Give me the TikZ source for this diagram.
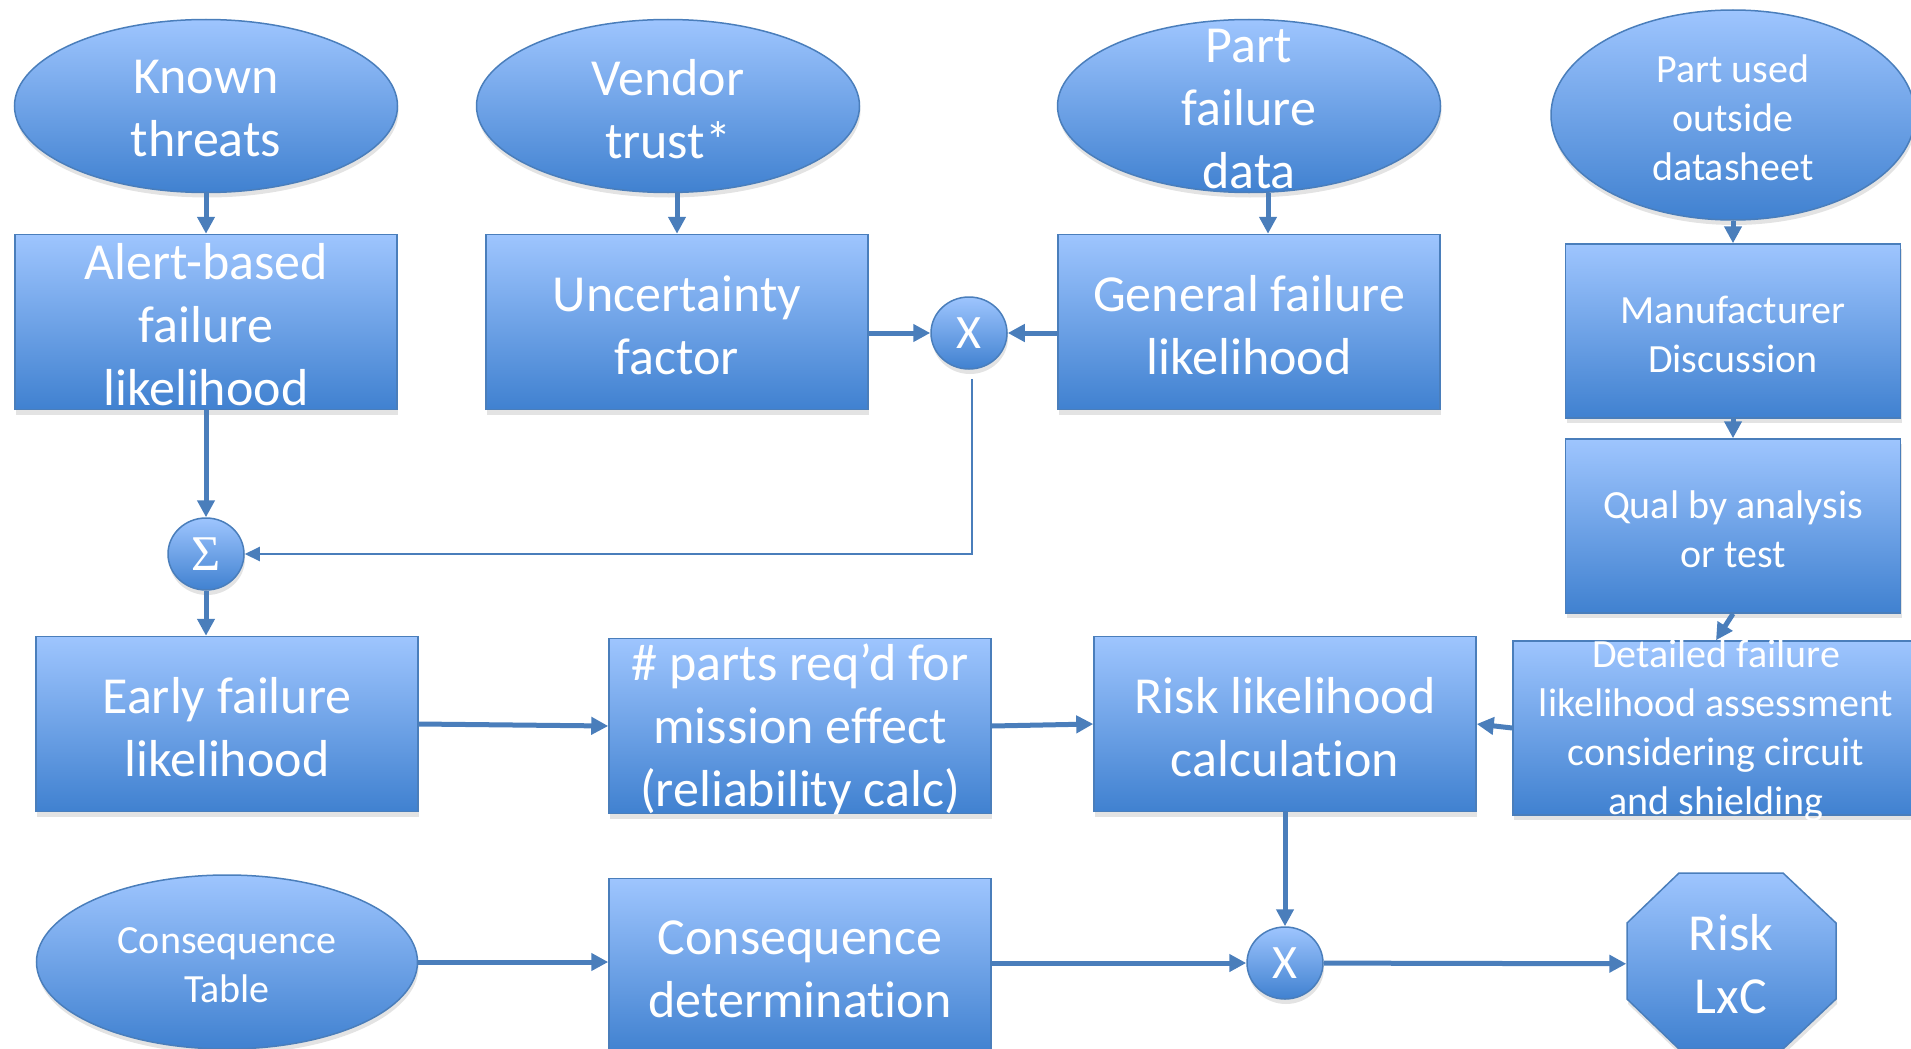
\documentclass[tikz,border=0pt]{standalone}
\usepackage{fontspec}
\setmainfont{Carlito}[Ligatures={NoCommon,NoRare}]
\newfontfamily\sigfont{Liberation Serif}
\usetikzlibrary{shapes.geometric,shadows,arrows.meta}
\definecolor{topc}{RGB}{158,197,254}
\definecolor{botc}{RGB}{64,129,208}
\definecolor{edgec}{RGB}{74,126,187}
\definecolor{linec}{RGB}{74,126,187}
\begin{document}
\begin{tikzpicture}[x=1pt,y=-1pt,
  shaded/.style={top color=topc,bottom color=botc,draw=edgec,line width=1.5pt,inner sep=0pt,
    drop shadow={opacity=0.22,shadow xshift=1pt,shadow yshift=-5pt}},
  txt/.style={text=white,align=center,inner sep=0pt,yshift=-3pt},
  bigtxt/.style={font=\fontsize{52}{63}\selectfont},
  smalltxt/.style={font=\fontsize{40}{49}\selectfont},
  boxn/.style={shaded,rectangle,minimum width=382pt,minimum height=175pt},
  ellbox/.style={shaded,ellipse,minimum width=383pt,minimum height=173pt},
  opn/.style={shaded,ellipse,minimum width=76pt,minimum height=72pt,text=white,font=\fontsize{48}{58}\selectfont},
  conn/.style={draw=linec,line width=5pt,-{Triangle[length=17pt,width=17pt]}},
  thinconn/.style={draw=linec,line width=2pt,-{Triangle[length=15pt,width=14pt]}}
]
\useasboundingbox (0,0) rectangle (1911,1049);
\clip (0,0) rectangle (1911,1049);

% top row ellipses
\node[ellbox] (kt) at (206,106) {};
\node[txt,bigtxt] at (kt) {Known\\threats};
\node[ellbox] (vt) at (668,106) {};
\node[txt,bigtxt] at (vt) {Vendor\\trust*};
\node[ellbox] (pfd) at (1249,106) {};
\node[txt,bigtxt] at (pfd) {Part\\failure\\data};
\node[ellbox,minimum width=364pt,minimum height=210pt] (pu) at (1733,115) {};
\node[txt,smalltxt] at (pu) {Part used\\outside\\datasheet};

% second row
\node[boxn] (alert) at (206,322) {};
\node[txt,bigtxt] at (alert) {Alert-based\\failure\\likelihood};
\node[boxn] (unc) at (677,322) {};
\node[txt,bigtxt] at (unc) {Uncertainty\\factor};
\node[opn] (x1) at (969,333) {X};
\node[boxn] (gen) at (1249,322) {};
\node[txt,bigtxt] at (gen) {General failure\\likelihood};
\node[boxn,minimum width=335pt,minimum height=174pt] (man) at (1733,331) {};
\node[txt,smalltxt] at (man) {Manufacturer\\Discussion};
\node[boxn,minimum width=335pt,minimum height=174pt] (qual) at (1733,526) {};
\node[txt,smalltxt] at (qual) {Qual by analysis\\or test};

% sigma
\node[opn,font=\sigfont\fontsize{50}{60}\selectfont] (sig) at (206,554) {Σ};

% third row
\node[boxn] (early) at (227,724) {};
\node[txt,bigtxt] at (early) {Early failure\\likelihood};
\node[boxn] (parts) at (800,726) {};
\node[txt,bigtxt] at (parts) {\# parts req’d for\\mission effect\\(reliability calc)};
\node[boxn] (rlc) at (1285,724) {};
\node[txt,bigtxt] at (rlc) {Risk likelihood\\calculation};
\node[boxn,minimum width=406pt,minimum height=174pt] (det) at (1716,728) {};
\node[txt,smalltxt] at (det) {Detailed failure\\likelihood assessment\\considering circuit\\and shielding};

% bottom row
\node[ellbox,minimum width=381pt,minimum height=174pt] (ct) at (227,962) {};
\node[txt,smalltxt] at (ct) {Consequence\\Table};
\node[boxn] (cdet) at (800,966) {};
\node[txt,bigtxt] at (cdet) {Consequence\\determination};
\node[opn] (x2) at (1285,963) {X};
\path[shaded] (1679,873) -- (1783,873) -- (1836,923) -- (1836,999) -- (1783,1049)
  -- (1679,1049) -- (1627,999) -- (1627,923) -- cycle;
\node[txt,bigtxt,minimum width=209pt,minimum height=176pt] (risk) at (1731,961) {Risk\\LxC};

% connectors
\draw[conn] (kt) -- (alert);
\draw[conn] (unc.north |- vt.south) -- (unc.north);
\draw[conn] ([xshift=19pt]pfd.south) -- ([xshift=19pt]gen.north);
\draw[conn] (pu) -- (man);
\draw[conn] (man) -- (qual);
\draw[conn] (qual.south) -- (det.north);
\draw[conn] (unc.east |- x1.west) -- (x1.west);
\draw[conn] (gen.west |- x1.east) -- (x1.east);
\draw[thinconn] ([xshift=3pt,yshift=-9pt]x1.south) |- (sig.east);
\draw[conn] (alert) -- (sig);
\draw[conn] (sig.south) -- (sig.south |- early.north);
\draw[conn] (early.east) -- (parts.west);
\draw[conn] (parts.east) -- (rlc.west);
\draw[conn] (det.west) -- (rlc.east);
\draw[conn] (rlc) -- (x2);
\draw[conn] (ct.east) -- (cdet.west |- ct.east);
\draw[conn] (cdet.east |- x2.west) -- (x2.west);
\draw[conn] (x2) -- (risk);
\end{tikzpicture}
\end{document}
